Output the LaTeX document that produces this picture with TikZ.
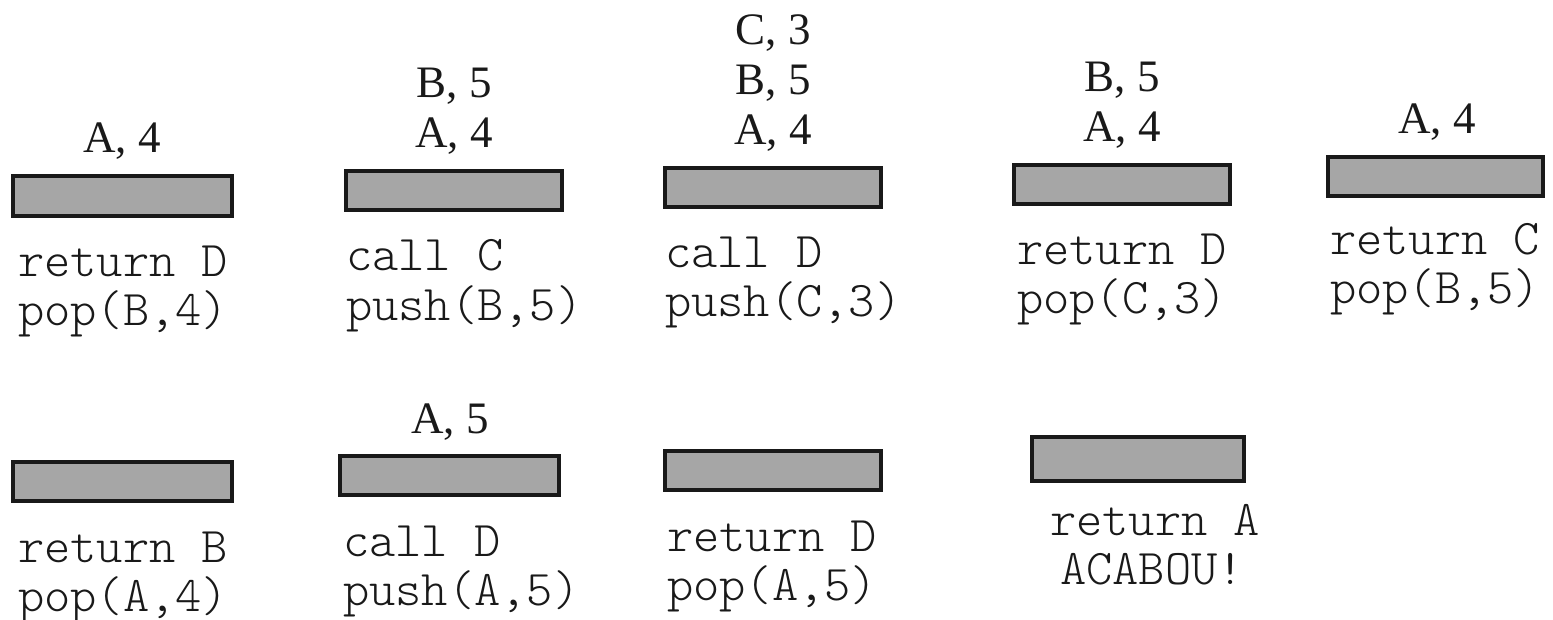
\documentclass[tikz,border=0pt]{standalone}
\usepackage{fontspec}
\newfontfamily\lblfont{Liberation Serif}
\definecolor{boxgray}{RGB}{166,166,166}
\definecolor{inkdark}{RGB}{25,25,25}
\tikzset{
  stackbox/.style={draw=inkdark, line width=3.6pt, fill=boxgray, rectangle, inner sep=0pt},
  pairlbl/.style={font=\lblfont\fontsize{45}{45}\selectfont, text=inkdark, inner sep=0pt, anchor=base},
  codeln/.style={font=\ttfamily\fontseries{l}\fontsize{50}{50}\selectfont, text=inkdark, inner sep=0pt, anchor=base west}
}
\begin{document}
\begin{tikzpicture}[x=1pt,y=-1pt]
\useasboundingbox (0,0) rectangle (1553,620);

% stack frames (top row)
\draw[stackbox] (13,176) rectangle (232,216);
\draw[stackbox] (346,171) rectangle (562,210);
\draw[stackbox] (665,168) rectangle (881,207);
\draw[stackbox] (1014,165) rectangle (1230,204);
\draw[stackbox] (1328,157) rectangle (1543,196);
% stack frames (bottom row)
\draw[stackbox] (13,462) rectangle (232,501);
\draw[stackbox] (340,456) rectangle (559,495);
\draw[stackbox] (665,451) rectangle (881,490);
\draw[stackbox] (1032,437) rectangle (1244,481);

% stack contents
\node[pairlbl] (s1a) at (122,153) {A, 4};

\node[pairlbl] (s2a) at (454,148) {A, 4};
\node[pairlbl] (s2b) at (454,98) {B, 5};

\node[pairlbl] (s3a) at (773,145) {A, 4};
\node[pairlbl] (s3b) at (773,95) {B, 5};
\node[pairlbl] (s3c) at (773,45) {C, 3};

\node[pairlbl] (s4a) at (1122,142) {A, 4};
\node[pairlbl] (s4b) at (1122,92) {B, 5};

\node[pairlbl] (s5a) at (1437,134) {A, 4};

\node[pairlbl] (s7a) at (450,433) {A, 5};

% operations
\node[codeln] (c1a) at (18,277) {return D};
\node[codeln] (c1b) at (18,326) {pop(B,4)};

\node[codeln] (c2a) at (346,271) {call C};
\node[codeln] (c2b) at (346,320) {push(B,5)};

\node[codeln] (c3a) at (665,268) {call D};
\node[codeln] (c3b) at (665,317) {push(C,3)};

\node[codeln] (c4a) at (1017,265) {return D};
\node[codeln] (c4b) at (1017,314) {pop(C,3)};

\node[codeln] (c5a) at (1330,255) {return C};
\node[codeln] (c5b) at (1330,304) {pop(B,5)};

\node[codeln] (c6a) at (18,562) {return B};
\node[codeln] (c6b) at (18,611) {pop(A,4)};

\node[codeln] (c7a) at (343,556) {call D};
\node[codeln] (c7b) at (343,605) {push(A,5)};

\node[codeln] (c8a) at (667,551) {return D};
\node[codeln] (c8b) at (667,600) {pop(A,5)};

\node[codeln] (c9a) at (1050,535) {return A};
\node[codeln] (c9b) at (1060,584) {ACABOU!};
\end{tikzpicture}
\end{document}
